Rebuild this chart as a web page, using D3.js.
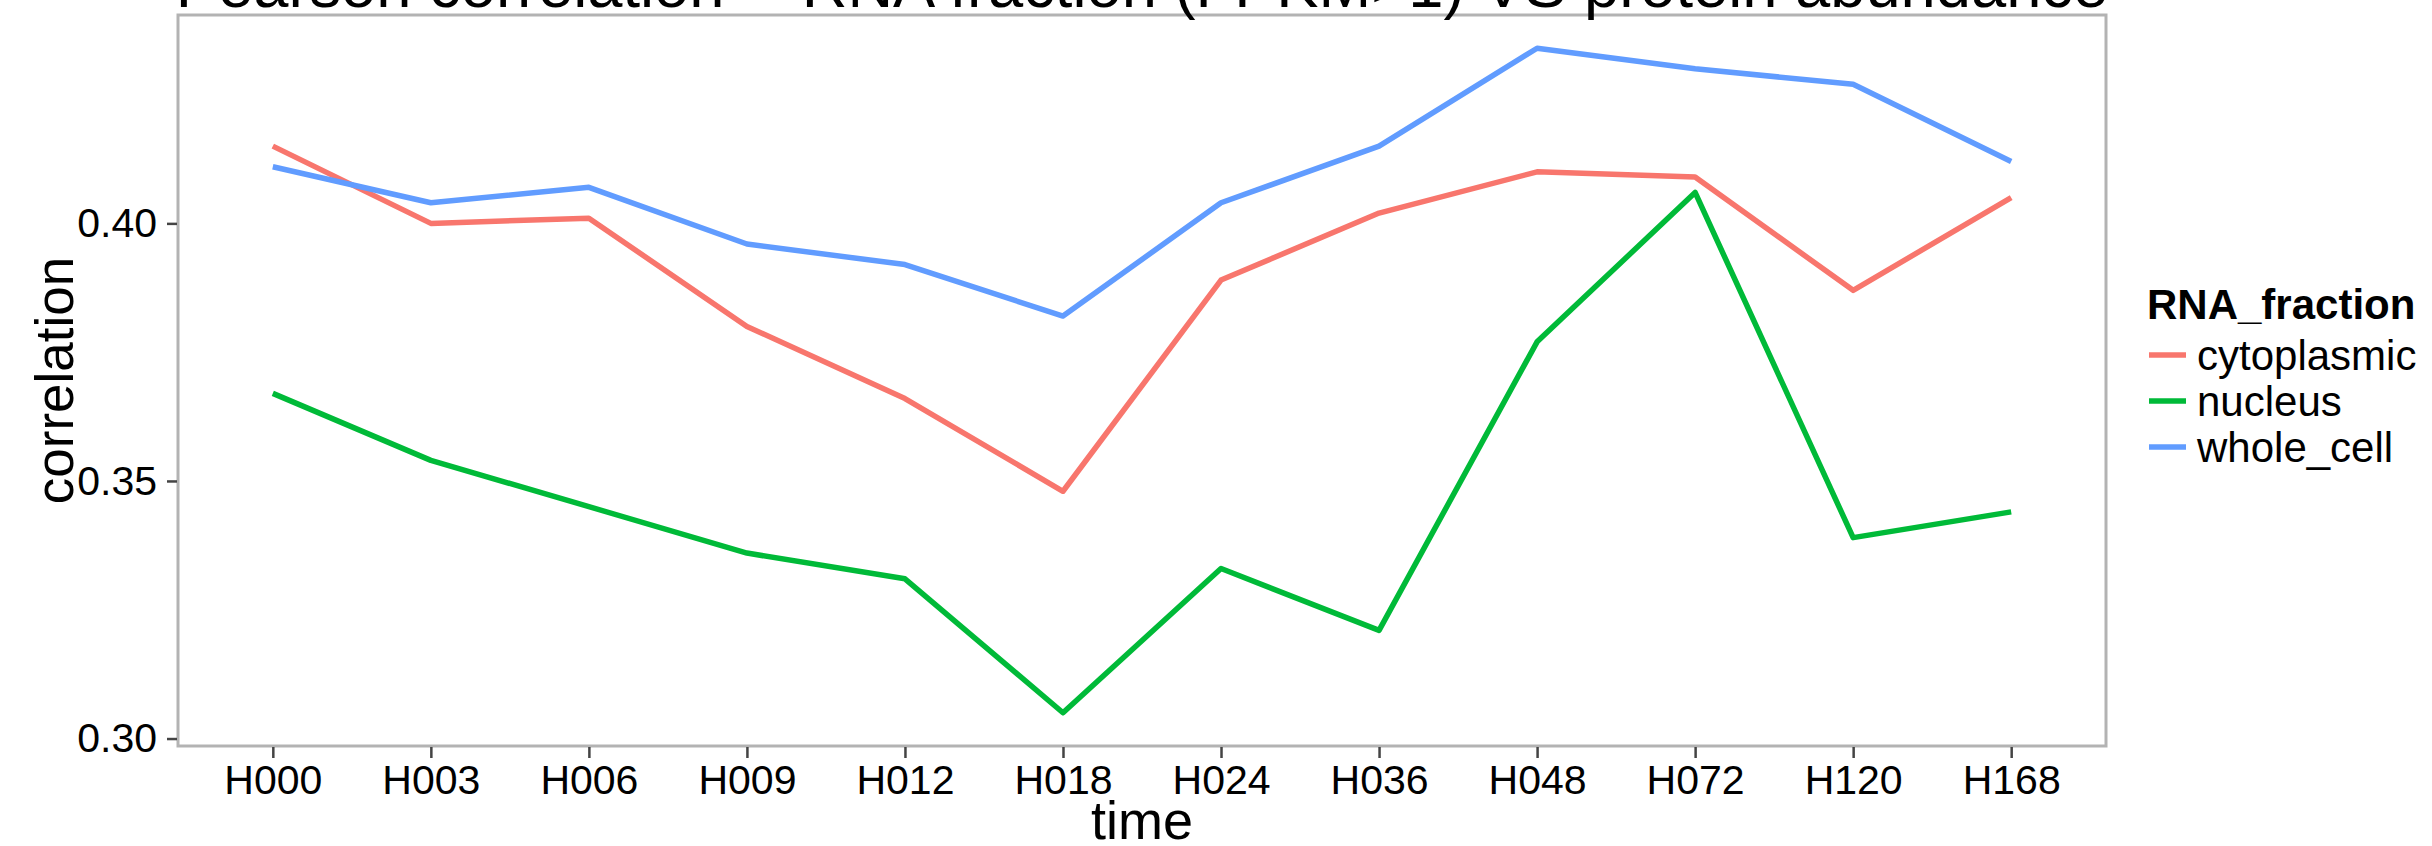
<!DOCTYPE html>
<html>
<head>
<meta charset="utf-8">
<script src="https://cdn.jsdelivr.net/npm/d3@7"></script>
<style>
  body { margin: 0; background: #fff; }
  text { font-family: "Liberation Sans", Arial, Helvetica, sans-serif; fill: #000; }
</style>
</head>
<body>
<div id="chart"></div>
<script>
// Data
const times = ['H000', 'H003', 'H006', 'H009', 'H012', 'H018', 'H024', 'H036', 'H048', 'H072', 'H120', 'H168'];
const cytoplasmic = [0.415, 0.400, 0.401, 0.380, 0.366, 0.348, 0.389, 0.402, 0.410, 0.409, 0.387, 0.405];
const nucleus     = [0.367, 0.354, 0.345, 0.336, 0.331, 0.305, 0.333, 0.321, 0.377, 0.406, 0.339, 0.344];
const wholeCell   = [0.411, 0.404, 0.407, 0.396, 0.392, 0.382, 0.404, 0.415, 0.434, 0.430, 0.427, 0.412];
const fractions = ['cytoplasmic', 'nucleus', 'whole_cell'];
const yTicks = [0.30, 0.35, 0.40];

const seriesValues = [cytoplasmic, nucleus, wholeCell];
const colors = ['#F8766D', '#00BA38', '#619CFF'];

let W = 2432, H = 846;
let panel = {left: 178, right: 2106, top: 15, bottom: 746};

let svg = d3.select('#chart')
    .append('svg')
        .attr('width', W)
        .attr('height', H);

// Scales (ggplot-style expansion)
let scX = d3.scalePoint()
    .domain(times)
    .range([panel.left, panel.right])
    .padding(0.6);

let allVals = [].concat(...seriesValues);
let yLims = d3.extent(allVals);
let yExp = (yLims[1] - yLims[0]) * 0.05;
let scY = d3.scaleLinear()
    .domain([yLims[0] - yExp, yLims[1] + yExp])
    .range([panel.bottom, panel.top]);

// Panel border
svg.append('rect')
    .attr('x', panel.left)
    .attr('y', panel.top)
    .attr('width', panel.right - panel.left)
    .attr('height', panel.bottom - panel.top)
    .attr('fill', 'none')
    .attr('stroke', '#b3b3b3')
    .attr('stroke-width', 3);

// Y axis
let yAxis = d3.axisLeft(scY)
    .tickValues(yTicks)
    .tickFormat(d3.format('.2f'))
    .tickSize(10)
    .tickPadding(10);
let gy = svg.append('g')
    .attr('transform', `translate(${panel.left - 1},0)`)
    .call(yAxis);
gy.select('.domain').remove();
gy.selectAll('line').attr('stroke', '#444').attr('stroke-width', 2.5);
gy.selectAll('text').attr('font-size', 41).attr('fill', '#000');

// X axis
let xAxis = d3.axisBottom(scX)
    .tickSize(11)
    .tickPadding(7);
let gx = svg.append('g')
    .attr('transform', `translate(0,${panel.bottom + 1})`)
    .call(xAxis);
gx.select('.domain').remove();
gx.selectAll('line').attr('stroke', '#444').attr('stroke-width', 2.5);
gx.selectAll('text').attr('font-size', 41).attr('fill', '#000');

// Lines
let plotLine = d3.line()
    .x((d, i) => scX(times[i]))
    .y(d => scY(d));

svg.selectAll('path.series')
    .data(seriesValues)
    .enter()
    .append('path')
        .attr('class', 'series')
        .attr('fill', 'none')
        .attr('stroke', (d, i) => colors[i])
        .attr('stroke-width', 5.5)
        .attr('stroke-linejoin', 'round')
        .attr('d', plotLine);

// Axis titles
svg.append('text')
    .attr('text-anchor', 'middle')
    .attr('x', (panel.left + panel.right) / 2)
    .attr('y', 839)
    .attr('font-size', 54)
    .text('time');
svg.append('text')
    .attr('text-anchor', 'middle')
    .attr('transform', 'rotate(-90)')
    .attr('x', -(panel.top + panel.bottom) / 2)
    .attr('y', 73)
    .attr('font-size', 53)
    .text('correlation');

// Main title, sized to span the panel width
let title = svg.append('text')
    .attr('text-anchor', 'middle')
    .attr('x', (panel.left + panel.right) / 2)
    .attr('y', 7)
    .attr('font-size', 60)
    .text('Pearson correlation -- RNA fraction (FPKM>1) VS protein abundance');
let tw = title.node().getComputedTextLength();
title.attr('font-size', 60 * 1933 / tw);

// Legend
let legend = svg.append('g');
legend.append('text')
    .attr('x', 2147)
    .attr('y', 319)
    .attr('font-size', 42)
    .attr('font-weight', 'bold')
    .text('RNA_fraction');
let items = legend.selectAll('g.item')
    .data(fractions)
    .enter()
    .append('g')
        .attr('class', 'item')
        .attr('transform', (d, i) => `translate(0,${355 + i * 46})`);
items.append('line')
    .attr('x1', 2149)
    .attr('x2', 2186)
    .attr('y1', 0)
    .attr('y2', 0)
    .attr('stroke', (d, i) => colors[i])
    .attr('stroke-width', 5.5);
items.append('text')
    .attr('x', 2197)
    .attr('y', 0)
    .attr('dy', '0.35em')
    .attr('font-size', 42)
    .text(d => d);
</script>
</body>
</html>
